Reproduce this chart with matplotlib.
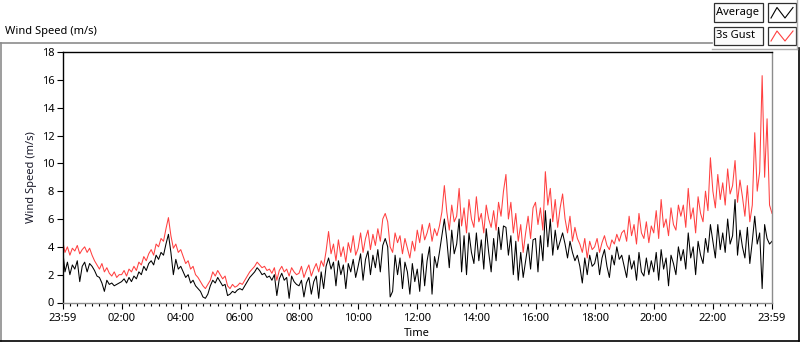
import numpy as np
import matplotlib
matplotlib.use("Agg")
import matplotlib.pyplot as plt
from matplotlib.lines import Line2D
from matplotlib.patches import Rectangle
from matplotlib.ticker import MultipleLocator, FixedLocator

plt.rcParams['font.family'] = ['Noto Sans', 'DejaVu Sans']

# 5-minute samples starting at 23:59 (one row per hour)
gust = [
    4.5, 3.6, 4.0, 3.4, 3.9, 3.7, 4.1, 3.5, 3.8, 4.0, 3.6, 3.9,
    3.4, 3.0, 2.7, 2.4, 2.8, 2.2, 2.5, 2.1, 1.9, 2.2, 1.8, 2.0,
    2.0, 2.3, 1.9, 2.4, 2.2, 2.6, 2.3, 2.9, 2.7, 3.3, 3.0, 3.5,
    3.8, 3.4, 4.2, 4.0, 4.6, 4.4, 5.3, 6.1, 4.8, 3.9, 4.2, 3.6,
    3.8, 3.3, 2.8, 3.0, 2.4, 2.6, 2.0, 1.8, 1.5, 1.2, 1.0, 1.3,
    1.6, 2.2, 1.9, 2.3, 2.0, 1.7, 1.9, 1.2, 1.0, 1.3, 1.1, 1.2,
    1.4, 1.3, 1.6, 1.9, 2.2, 2.4, 2.6, 2.9, 2.7, 2.5, 2.6, 2.3,
    2.4, 2.1, 2.5, 1.6, 2.3, 2.6, 2.2, 2.4, 1.9, 2.5, 2.2, 2.0,
    2.1, 2.6, 1.8, 2.3, 2.7, 1.9, 2.4, 2.8, 2.2, 3.0, 2.6, 3.7,
    5.1, 3.5, 4.2, 3.0, 4.5, 3.3, 4.0, 2.9, 4.3, 3.6, 4.8, 3.4,
    3.9, 5.0, 3.6, 4.6, 5.2, 3.8, 4.9, 4.1, 5.3, 4.4, 6.0, 6.4,
    5.8, 4.0, 3.6, 5.0, 4.3, 4.8, 3.5, 4.6, 3.9, 3.2, 4.4, 3.7,
    5.2, 4.3, 5.6, 4.5, 5.0, 5.7, 4.4, 5.3, 4.8, 5.5, 6.5, 8.4,
    6.5, 5.2, 7.0, 5.8, 6.2, 8.2, 5.5, 6.8, 5.0, 7.4, 6.0, 5.4,
    7.6, 5.8, 6.4, 5.0, 7.0, 6.0, 5.4, 6.6, 5.2, 7.2, 6.2, 8.0,
    9.2, 6.0, 7.2, 5.0, 6.4, 4.4, 5.6, 3.6, 5.0, 6.2, 4.6, 6.8,
    7.2, 5.6, 6.8, 5.2, 9.4, 7.0, 8.2, 5.8, 7.4, 5.4, 6.8, 7.8,
    6.0, 5.0, 6.2, 4.4, 5.4, 4.6, 4.2, 3.6, 4.6, 3.2, 4.4, 3.8,
    4.0, 4.6, 3.6, 4.3, 4.8, 4.1, 3.8, 4.5, 4.2, 4.9, 4.4, 5.0,
    5.2, 4.4, 6.2, 4.8, 5.6, 4.2, 6.4, 5.0, 4.6, 5.8, 4.3, 5.5,
    5.0, 6.6, 4.6, 7.4, 5.4, 6.0, 4.8, 6.8, 5.6, 5.2, 7.0, 6.2,
    7.0, 5.4, 8.2, 6.0, 6.8, 5.0, 7.6, 6.4, 5.8, 8.0, 6.6, 10.4,
    8.0, 6.8, 9.2, 7.4, 8.6, 7.0, 9.6, 7.8, 8.4, 10.2, 7.2, 8.8,
    7.6, 6.2, 8.4, 5.8, 7.0, 12.2, 8.0, 9.4, 16.3, 9.0, 13.2, 7.0, 6.4,
]
average = [
    3.9, 2.2, 2.9, 2.0, 2.7, 2.4, 3.0, 1.5, 2.6, 2.9, 2.2, 2.8,
    2.6, 2.3, 1.9, 1.8, 1.4, 0.8, 1.6, 1.3, 1.4, 1.2, 1.3, 1.4,
    1.5, 1.7, 1.4, 1.8, 1.5, 1.9, 1.7, 2.2, 2.0, 2.6, 2.3, 2.8,
    3.0, 2.7, 3.4, 3.1, 3.6, 3.4, 4.2, 4.9, 3.6, 2.0, 3.1, 2.4,
    2.6, 2.2, 1.8, 2.0, 1.4, 1.6, 1.2, 1.0, 0.8, 0.4, 0.3, 0.6,
    1.2, 1.6, 1.4, 1.8, 1.5, 1.2, 1.3, 0.5, 0.6, 0.8, 0.7, 0.9,
    1.0, 0.9, 1.2, 1.5, 1.8, 2.0, 2.2, 2.5, 2.3, 2.0, 2.1, 1.8,
    1.9, 1.6, 2.0, 0.5, 1.7, 2.1, 1.6, 1.8, 0.3, 1.9, 1.5, 1.3,
    1.2, 1.6, 0.4, 1.4, 1.8, 0.6, 1.5, 1.9, 0.3, 2.2, 1.0, 2.6,
    3.2, 2.4, 2.9, 1.2, 3.0, 2.0, 2.7, 1.0, 2.8, 2.2, 3.1, 1.8,
    2.6, 3.5, 1.6, 3.1, 3.7, 2.0, 3.4, 2.5, 3.8, 2.2, 4.1, 4.6,
    4.0, 0.4, 0.8, 3.4, 2.0, 3.2, 1.0, 2.9, 2.2, 0.6, 2.8, 1.5,
    2.4, 0.8, 3.5, 1.2, 3.0, 4.0, 0.6, 3.3, 2.5, 3.6, 4.8, 6.0,
    4.5, 2.5, 5.2, 3.5, 4.2, 6.0, 2.2, 4.8, 2.0, 5.0, 3.6, 2.8,
    5.0, 3.0, 4.5, 2.4, 5.3, 3.6, 2.2, 4.6, 3.0, 5.4, 3.8, 5.5,
    5.4, 3.4, 4.8, 2.0, 4.4, 1.6, 3.6, 1.8, 3.0, 4.2, 2.4, 4.5,
    4.6, 2.2, 4.8, 3.0, 6.6, 4.0, 6.0, 3.4, 5.2, 3.8, 4.4, 5.0,
    4.2, 3.2, 4.4, 3.6, 3.0, 3.4, 2.6, 1.4, 3.2, 2.0, 3.4, 2.6,
    2.8, 3.6, 2.0, 3.2, 3.8, 2.6, 1.8, 3.4, 2.7, 4.0, 3.1, 3.4,
    2.6, 1.8, 3.4, 2.4, 3.0, 1.6, 3.6, 2.2, 1.9, 3.2, 2.0, 3.0,
    2.2, 3.6, 1.6, 3.8, 2.4, 3.2, 1.2, 3.4, 2.8, 2.0, 4.0, 3.0,
    3.8, 2.4, 5.0, 3.2, 4.0, 2.0, 4.4, 3.4, 2.8, 4.6, 3.6, 5.6,
    4.4, 3.2, 5.6, 3.8, 5.0, 3.6, 6.0, 4.2, 4.8, 7.4, 3.4, 5.2,
    4.0, 3.2, 5.4, 2.8, 4.4, 6.2, 4.2, 5.0, 1.0, 5.6, 4.6, 4.2, 4.4,
]
step_minutes = 5
tick_labels = ["23:59", "02:00", "04:00", "06:00", "08:00", "10:00",
               "12:00", "14:00", "16:00", "18:00", "20:00", "22:00", "23:59"]
series_names = ["Average", "3s Gust"]
series_colors = ["#000000", "#ff4040"]

W, H = 800, 342
fig = plt.figure(figsize=(W / 100, H / 100), dpi=100)
fig.patch.set_facecolor("white")

def fx(px):
    return px / W

def fy(py):
    return 1 - py / H

ax = fig.add_axes([fx(62.5), fy(302.5), fx(772) - fx(62.5), fy(52) - fy(302.5)])
t = np.arange(len(gust)) * step_minutes
ax.plot(t, gust, color=series_colors[1], lw=0.75)
ax.plot(np.arange(len(average)) * step_minutes, average, color=series_colors[0], lw=0.75)

ax.set_xlim(0, 1440)
ax.set_ylim(0, 18)
ax.yaxis.set_major_locator(MultipleLocator(2))
ax.xaxis.set_major_locator(FixedLocator(np.arange(0, 1441, 120)))
ax.xaxis.set_minor_locator(FixedLocator(np.arange(0, 1441, 15)))
ax.set_xticklabels(tick_labels)

for s in ["top", "left"]:
    ax.spines[s].set_color("black")
    ax.spines[s].set_linewidth(1.0)
for s in ["bottom", "right"]:
    ax.spines[s].set_color("#8c8c8c")
    ax.spines[s].set_linewidth(1.0)

fs = 8
ax.tick_params(axis="y", which="major", length=4, width=0.8, pad=2, labelsize=fs, color="black")
ax.tick_params(axis="x", which="major", length=4.5, width=0.8, pad=3, labelsize=fs, color="black")
ax.tick_params(axis="x", which="minor", length=2.5, width=0.8, color="black")

ax.set_ylabel("Wind Speed (m/s)", fontsize=fs, labelpad=3, color="#1a1a2a")
ax.set_xlabel("Time", fontsize=fs, labelpad=3, color="black")

# title and panel frames
fig.text(fx(5), fy(34), "Wind Speed (m/s)", fontsize=fs, ha="left", va="baseline")
frame_gray = "#8c8c8c"
fig.add_artist(Line2D([fx(0), fx(712)], [fy(42.5), fy(42.5)], color=frame_gray, lw=1.2))
fig.add_artist(Line2D([fx(0.7), fx(0.7)], [fy(42.5), fy(341)], color=frame_gray, lw=1.2))
fig.add_artist(Line2D([fx(0), fx(799.3)], [fy(341.3), fy(341.3)], color="black", lw=1.2))
fig.add_artist(Line2D([fx(799.3), fx(799.3)], [fy(48), fy(341.3)], color="black", lw=1.2))
fig.add_artist(Line2D([fx(712), fx(797)], [fy(48.5), fy(48.5)], color="#b0b0b0", lw=1.0))
fig.add_artist(Line2D([fx(797), fx(797)], [fy(0), fy(48.5)], color="#b0b0b0", lw=1.0))

# legend
rows = [(3.5, 22), (27, 45)]
for (y0, y1), name, col in zip(rows, series_names, series_colors):
    fig.add_artist(Rectangle((fx(714), fy(y1)), fx(763) - fx(714), fy(y0) - fy(y1),
                             facecolor="#fbfbfb", edgecolor="#303030", lw=0.9))
    fig.text(fx(715.5), (fy(y0) + fy(y1)) / 2, name, fontsize=fs, ha="left", va="center")
    fig.add_artist(Rectangle((fx(768), fy(y1)), fx(796) - fx(768), fy(y0) - fy(y1),
                             facecolor="white", edgecolor="#303030", lw=0.9))
    zx = [771, 777, 785, 793]
    zy = [y1 - 4, y0 + 4, y1 - 4, y0 + 4]
    fig.add_artist(Line2D([fx(v) for v in zx], [fy(v) for v in zy], color=col, lw=0.8))

fig.savefig("out.png", dpi=100, facecolor="white")
